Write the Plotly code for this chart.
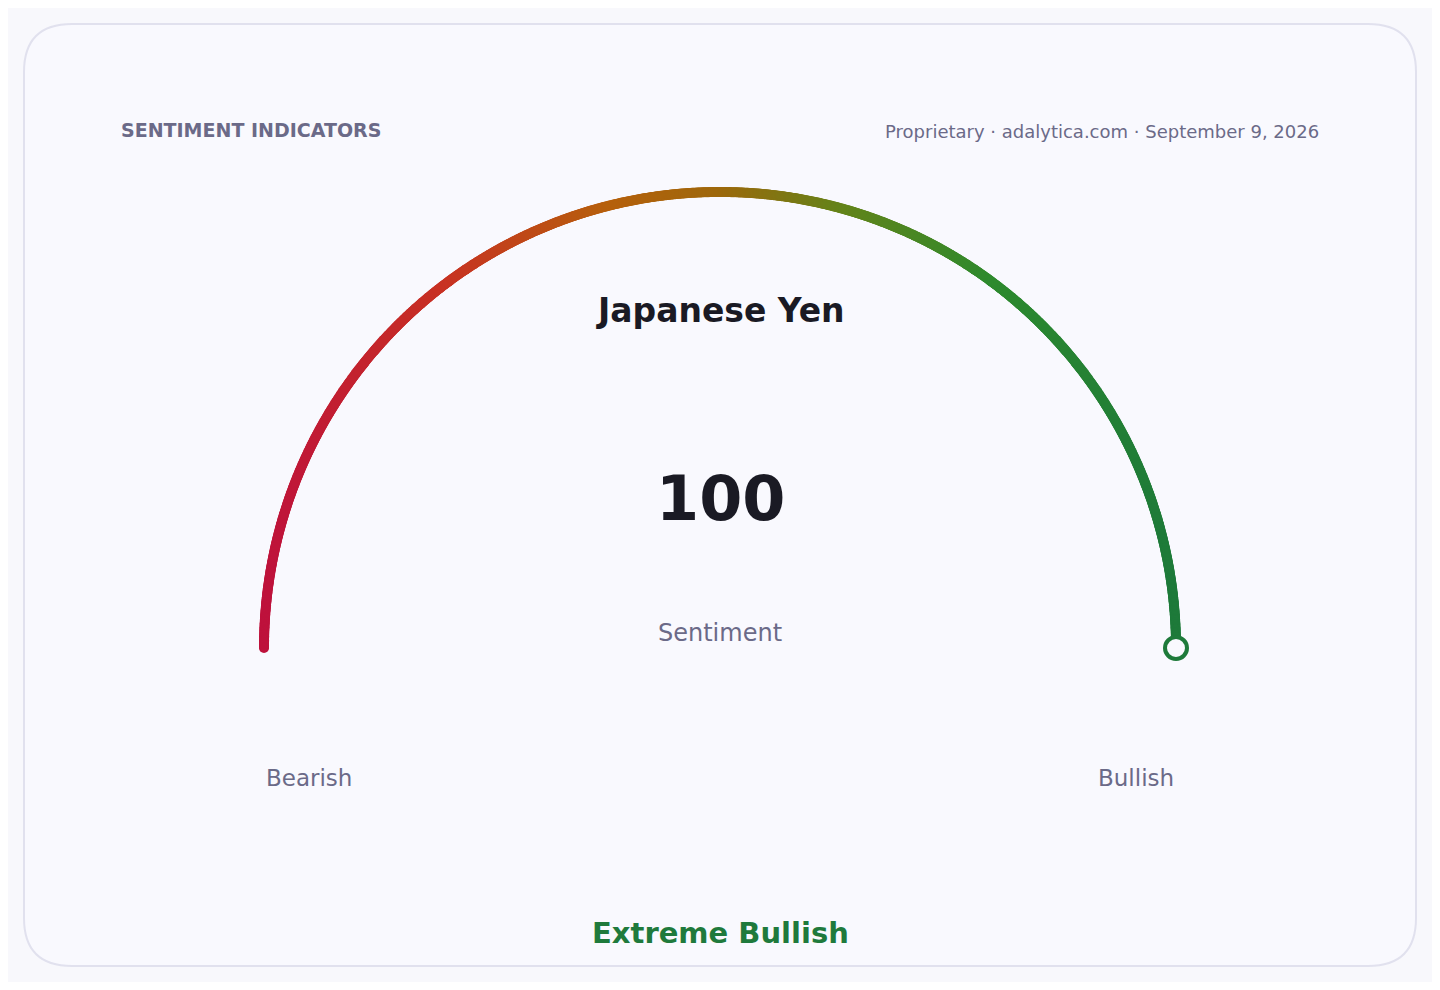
import numpy as np
import plotly.graph_objects as go

# values read from the card
instrument = "Japanese Yen"
sentiment_value = 100
scale_min = 0
scale_max = 100
scale_labels = ["Bearish", "Bullish"]
sentiment_label = "Extreme Bullish"
header_left = "SENTIMENT INDICATORS"
header_right = "Proprietary · adalytica.com · September 9, 2026"
value_caption = "Sentiment"

# page is 1440x990, body keeps its default 8px margin
W, H = 1424, 974
OFF = 8
FONT = "DejaVu Sans"
MUTED = "#6b6a88"
INK = "#1a1a24"
GREEN = "#1f7a3c"
CARD = "#f9f9fe"

# gauge geometry (page pixels)
cx, cy, r = 720, 648, 456

# horizontal gradient stops: crimson -> amber -> olive -> green
stops = [
    (0.00, (190, 18, 60)),
    (0.20, (200, 50, 35)),
    (0.38, (182, 96, 12)),
    (0.50, (158, 104, 12)),
    (0.64, (98, 132, 26)),
    (0.80, (46, 138, 46)),
    (1.00, (30, 122, 58)),
]


def grad(f):
    f = min(max(f, 0.0), 1.0)
    for (f0, c0), (f1, c1) in zip(stops[:-1], stops[1:]):
        if f <= f1:
            t = (f - f0) / (f1 - f0)
            c = [round(a + (b - a) * t) for a, b in zip(c0, c1)]
            return "rgb(%d,%d,%d)" % tuple(c)
    return "rgb(%d,%d,%d)" % stops[-1][1]


frac = (sentiment_value - scale_min) / (scale_max - scale_min)
n = int(1100 * frac) + 2
ang = np.pi * np.linspace(0, frac, n)
xs = cx - r * np.cos(ang)
ys = cy - r * np.sin(ang)
colors = [grad((x - (cx - r)) / (2 * r)) for x in xs]

fig = go.Figure()

# card
R = 48
x0, y0, x1, y1 = 24, 24, 1416, 966
card = (f"M {x0+R},{y0} L {x1-R},{y0} Q {x1},{y0} {x1},{y0+R} "
        f"L {x1},{y1-R} Q {x1},{y1} {x1-R},{y1} L {x0+R},{y1} "
        f"Q {x0},{y1} {x0},{y1-R} L {x0},{y0+R} Q {x0},{y0} {x0+R},{y0} Z")
fig.add_shape(type="path", path=card, xref="x", yref="y",
              fillcolor=CARD, line=dict(color="#e1e1ee", width=2), layer="below")

# arc
fig.add_trace(go.Scatter(
    x=xs, y=ys, mode="markers",
    marker=dict(size=10, color=colors, line=dict(width=0)),
    hoverinfo="skip", showlegend=False,
))

# end knob
fig.add_trace(go.Scatter(
    x=[xs[-1]], y=[ys[-1]], mode="markers",
    marker=dict(size=22, color=CARD, line=dict(width=4, color=colors[-1])),
    hoverinfo="skip", showlegend=False,
))


def txt(x, y, s, size, color, bold=False, anchor="center"):
    fig.add_annotation(
        x=x, y=y, xref="x", yref="y", text=f"<b>{s}</b>" if bold else s,
        showarrow=False, xanchor=anchor, yanchor="middle",
        font=dict(family=FONT, size=size, color=color),
    )


txt(119, 130, header_left, 19, MUTED, bold=True, anchor="left")
txt(1321, 131, header_right, 18, MUTED, anchor="right")
txt(720, 310, instrument, 33, INK, bold=True)
txt(720, 498, str(sentiment_value), 62, INK, bold=True)
txt(720, 633, value_caption, 24, MUTED)
txt(cx - r, 778, scale_labels[0], 23, MUTED, anchor="left")
txt(cx + r, 778, scale_labels[1], 23, MUTED, anchor="right")
txt(720, 933, sentiment_label, 29, GREEN, bold=True)

fig.update_layout(
    width=W, height=H,
    margin=dict(l=0, r=0, t=0, b=0),
    paper_bgcolor="#f8f8fc",
    plot_bgcolor="rgba(0,0,0,0)",
    xaxis=dict(range=[OFF, OFF + W], visible=False, fixedrange=True),
    yaxis=dict(range=[OFF + H, OFF], visible=False, fixedrange=True),
    showlegend=False,
)

fig.write_html("out.html")
